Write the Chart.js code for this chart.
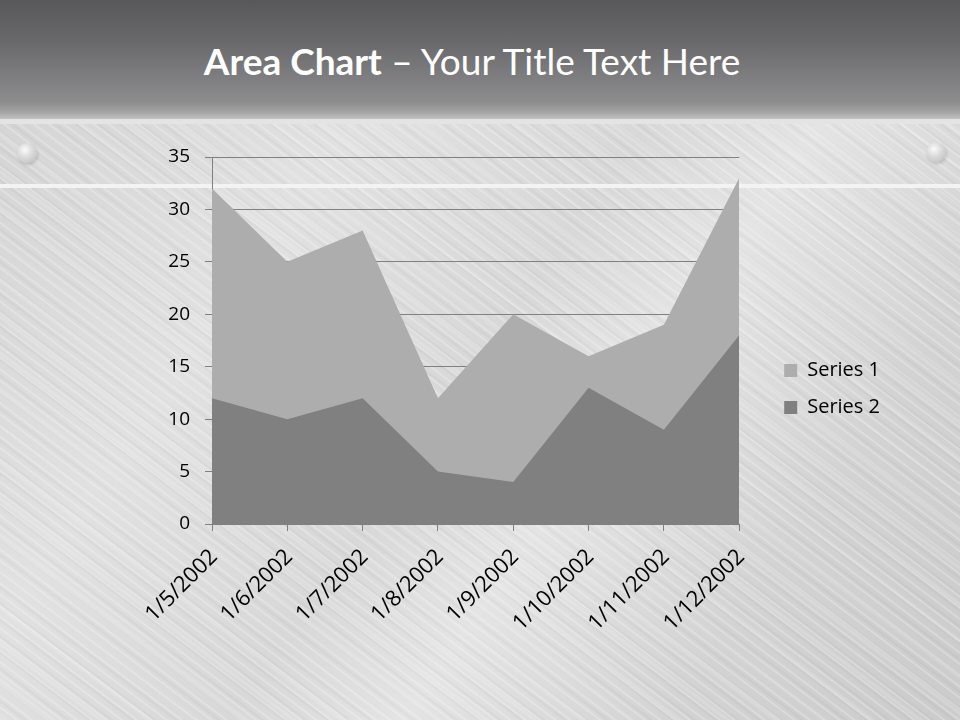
<!DOCTYPE html>
<html>
<head>
<meta charset="utf-8">
<title>Area Chart</title>
<script src="https://cdn.jsdelivr.net/npm/chart.js@4.4.1/dist/chart.umd.min.js"></script>
<style>
  body { margin: 0; background: #d6d6d6; }
  #slide {
    position: relative; width: 960px; height: 720px; overflow: hidden;
    background:
      repeating-linear-gradient(37deg, rgba(255,255,255,0) 0px, rgba(255,255,255,0.3) 1px, rgba(255,255,255,0) 3px, rgba(255,255,255,0) 9px),
      repeating-linear-gradient(37deg, rgba(0,0,0,0) 0px, rgba(0,0,0,0.035) 2px, rgba(0,0,0,0) 4px, rgba(0,0,0,0) 13px),
      repeating-linear-gradient(37deg, rgba(255,255,255,0) 0px, rgba(255,255,255,0.2) 3px, rgba(255,255,255,0) 6px, rgba(255,255,255,0) 29px),
      linear-gradient(125deg, #d2d2d2 0%, #e1e1e1 30%, #d8d8d8 50%, #e4e4e4 62%, #d3d3d3 80%, #cbcbcb 100%);
  }
  .header {
    position: absolute; left: 0; top: 0; width: 960px; height: 119px;
    background: linear-gradient(to bottom, #58585a 0%, #69696b 35%, #838385 72%, #8d8d8d 86%, #a3a3a3 94%, #c2c2c2 100%);
  }
  .band { position: absolute; left: 0; top: 119px; width: 960px; height: 5px; background: #e4e4e4; }
  .rail { position: absolute; left: 0; top: 184px; width: 960px; height: 4px; background: #f3f3f3; }
  .rivet {
    position: absolute; width: 20px; height: 20px; border-radius: 50%;
    background: radial-gradient(circle at 40% 35%, #fbfbfb 0%, #dcdcdc 40%, #b9b9b9 100%);
    box-shadow: 1px 2px 3px rgba(0,0,0,0.15);
  }
  .title {
    position: absolute; left: 0; top: 42px; width: 944px; text-align: center;
    font-family: Lato, sans-serif; font-size: 37px; line-height: 1; color: #fff;
  }
  .title b { font-weight: 700; }
  #chart { position: absolute; left: 0; top: 0; }
</style>
</head>
<body>
<div id="slide">
  <div class="header"></div>
  <div class="band"></div>
  <div class="rail"></div>
  <div class="rivet" style="left:17px;top:143px"></div>
  <div class="rivet" style="left:926px;top:142px"></div>
  <div class="title"><b>Area Chart</b> – Your Title Text Here</div>
  <canvas id="chart" width="960" height="720"></canvas>
</div>
<script>
const categories = ['1/5/2002', '1/6/2002', '1/7/2002', '1/8/2002', '1/9/2002', '1/10/2002', '1/11/2002', '1/12/2002'];
const series1 = [32, 25, 28, 12, 20, 16, 19, 33];
const series2 = [12, 10, 12, 5, 4, 13, 9, 18];
const seriesNames = ['Series 1', 'Series 2'];

const axisFont = { family: '"Open Sans", sans-serif', size: 19 };
const dateFont = { family: '"Open Sans", sans-serif', size: 22 };
const legendFont = { family: '"Open Sans", sans-serif', size: 20 };
const gridGray = '#808080';

// blank axis used only to reserve space
const spacer = (size, pos) => ({
  type: 'linear',
  position: pos,
  grid: { display: false },
  border: { display: false },
  ticks: { display: false },
  afterFit: (s) => {
    if (pos === 'top') s.height = size;
    else s.width = size;
  }
});

new Chart(document.getElementById('chart'), {
  type: 'line',
  data: {
    labels: categories,
    datasets: [
      {
        label: seriesNames[0],
        data: series1,
        fill: 'origin',
        backgroundColor: '#adadad',
        borderColor: '#adadad',
        borderWidth: 0,
        pointRadius: 0,
        tension: 0,
        order: 2
      },
      {
        label: seriesNames[1],
        data: series2,
        fill: 'origin',
        backgroundColor: '#808080',
        borderColor: '#808080',
        borderWidth: 0,
        pointRadius: 0,
        tension: 0,
        order: 1
      }
    ]
  },
  options: {
    responsive: false,
    animation: false,
    layout: { padding: { top: 142, bottom: 84, left: 0, right: 70 } },
    plugins: {
      tooltip: { enabled: false },
      legend: {
        position: 'right',
        align: 'center',
        labels: {
          boxWidth: 13,
          boxHeight: 13,
          padding: 17,
          color: '#000',
          font: legendFont,
          sort: (a, b) => a.datasetIndex - b.datasetIndex
        }
      }
    },
    scales: {
      x: {
        offset: false,
        grid: { drawOnChartArea: false, drawTicks: true, tickLength: 7, color: gridGray },
        border: { display: true, color: gridGray },
        ticks: { autoSkip: false, maxRotation: 45, minRotation: 45, color: '#000', font: dateFont, padding: 13, labelOffset: 2 },
        afterFit: (s) => { s.height = 112; }
      },
      y: {
        min: 0,
        max: 35,
        ticks: { stepSize: 5, color: '#000', font: axisFont, padding: 15 },
        grid: { color: gridGray, tickLength: 7 },
        border: { display: true, color: gridGray },
        afterFit: (s) => { s.width = 212; }
      },
      topGap: spacer(15, 'top'),
      rightGap: spacer(28, 'right')
    }
  }
});
</script>
</body>
</html>
